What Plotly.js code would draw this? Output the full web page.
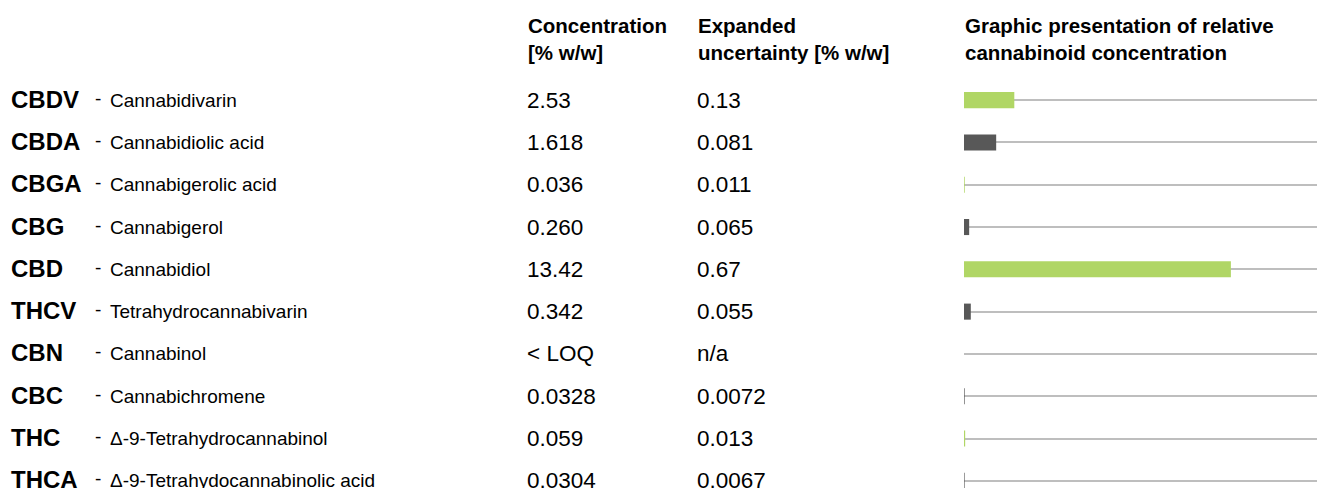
<!DOCTYPE html>
<html>
<head>
<meta charset="utf-8">
<script src="https://cdn.plot.ly/plotly-3.0.1.min.js"></script>
<style>html,body{margin:0;padding:0;background:#fff;}#chart{width:1317px;height:488px;}</style>
</head>
<body>
<div id="chart"></div>
<script>
// ---- data ----
const abbrevs = ["CBDV","CBDA","CBGA","CBG","CBD","THCV","CBN","CBC","THC","THCA"];
const names = ["Cannabidivarin","Cannabidiolic acid","Cannabigerolic acid","Cannabigerol","Cannabidiol",
  "Tetrahydrocannabivarin","Cannabinol","Cannabichromene","Δ-9-Tetrahydrocannabinol","Δ-9-Tetrahydocannabinolic acid"];
const concLabels = ["2.53","1.618","0.036","0.260","13.42","0.342","< LOQ","0.0328","0.059","0.0304"];
const uncLabels = ["0.13","0.081","0.011","0.065","0.67","0.055","n/a","0.0072","0.013","0.0067"];
const concValues = [2.53,1.618,0.036,0.260,13.42,0.342,null,0.0328,0.059,0.0304];
const barColors = ["#b0d665","#585858","#b0d665","#585858","#b0d665","#585858","#585858","#585858","#b0d665","#585858"];
const headers = ["Concentration<br>[% w/w]","Expanded<br>uncertainty [% w/w]","Graphic presentation of relative<br>cannabinoid concentration"];

const W = 1317, H = 488, TOP = 79;
const FONT = '"Liberation Sans", Arial, Helvetica, sans-serif';
const px = v => v / W;
const py = v => 1 + (TOP - v) / (H - TOP);

const annotations = [];
const headerX = [526, 696, 963];
headers.forEach((h, i) => annotations.push({
  text: '<b>' + h + '</b>', xref: 'paper', yref: 'paper', x: px(headerX[i]), y: py(39.5),
  xanchor: 'left', yanchor: 'middle', align: 'left', showarrow: false,
  font: {family: FONT, size: 20.5, color: '#000'}
}));

abbrevs.forEach((a, i) => {
  annotations.push({text: '<b>' + a + '</b>', xref: 'paper', yref: 'y', x: px(9), y: a, yshift: 1,
    xanchor: 'left', yanchor: 'middle', showarrow: false, font: {family: FONT, size: 24, color: '#000'}});
  annotations.push({text: '-', xref: 'paper', yref: 'y', x: px(93), y: a, yshift: 2,
    xanchor: 'left', yanchor: 'middle', showarrow: false, font: {family: FONT, size: 19, color: '#000'}});
  annotations.push({text: names[i], xref: 'paper', yref: 'y', x: px(108), y: a, yshift: 0,
    xanchor: 'left', yanchor: 'middle', showarrow: false, font: {family: FONT, size: 19, color: '#000'}});
  annotations.push({text: concLabels[i], xref: 'paper', yref: 'y', x: px(525), y: a,
    xanchor: 'left', yanchor: 'middle', showarrow: false, font: {family: FONT, size: 22.5, color: '#000'}});
  annotations.push({text: uncLabels[i], xref: 'paper', yref: 'y', x: px(695), y: a,
    xanchor: 'left', yanchor: 'middle', showarrow: false, font: {family: FONT, size: 22.5, color: '#000'}});
});

const trace = {
  type: 'bar', orientation: 'h', x: concValues, y: abbrevs,
  marker: {color: barColors, line: {width: 0}}, width: 0.38, hoverinfo: 'skip'
};

const layout = {
  width: W, height: H, margin: {l: 0, r: 0, t: TOP, b: 0},
  paper_bgcolor: '#fff', plot_bgcolor: '#fff', showlegend: false,
  xaxis: {domain: [964 / W, 1], range: [0, 17.75], showgrid: false, zeroline: false,
    showticklabels: false, ticks: '', fixedrange: true},
  yaxis: {type: 'category', range: [9.17, -0.5], showgrid: true, gridcolor: '#bebebe', gridwidth: 2,
    showticklabels: false, ticks: '', zeroline: false, fixedrange: true},
  annotations: annotations
};

Plotly.newPlot('chart', [trace], layout, {displayModeBar: false, staticPlot: true});
</script>
</body>
</html>
